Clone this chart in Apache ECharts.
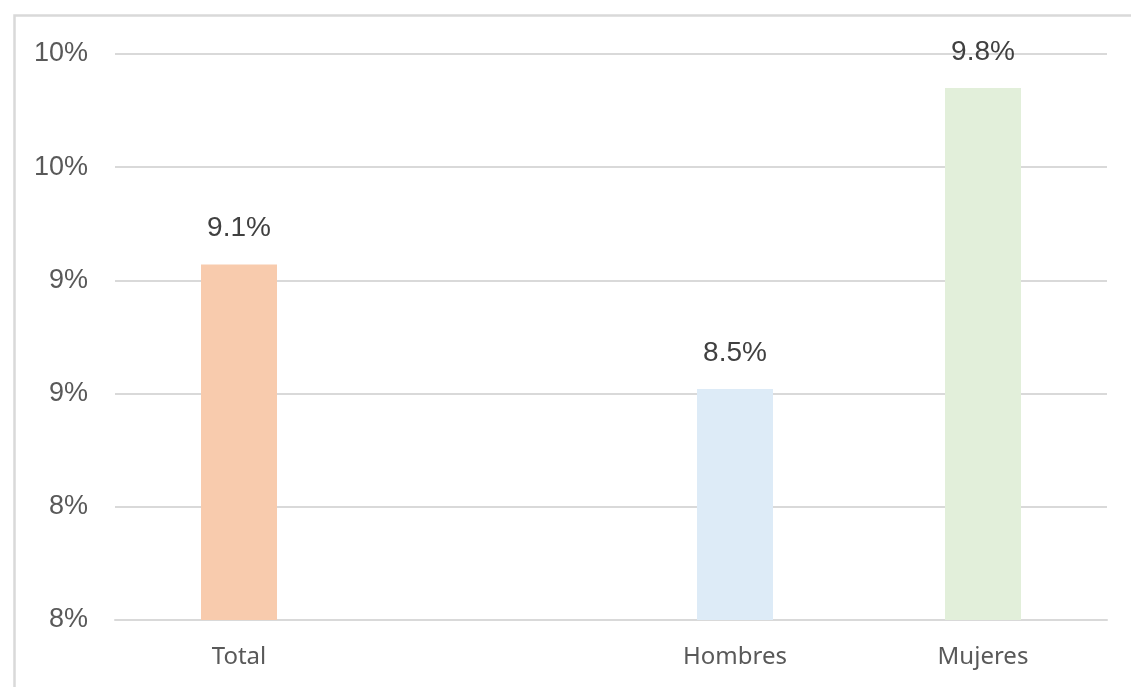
<!DOCTYPE html>
<html>
<head>
<meta charset="utf-8">
<script src="https://cdn.jsdelivr.net/npm/echarts@6/dist/echarts.min.js"></script>
<style>
html,body{margin:0;padding:0;background:#fff;}
#chart{width:1131px;height:687px;}
</style>
</head>
<body>
<div id="chart"></div>
<script>
var categories = ['Total', '', 'Hombres', 'Mujeres'];
var values = [9.07, null, 8.52, 9.85];
var barColors = ['#F8CBAD', '#FFFFFF', '#DDEBF7', '#E2EFDA'];
var yMin = 7.5, yMax = 10, yStep = 0.5;

var chart = echarts.init(document.getElementById('chart'), null, {renderer: 'canvas'});
chart.setOption({
  backgroundColor: '#ffffff',
  animation: false,
  graphic: [{
    type: 'rect',
    left: 12, top: 13,
    shape: {width: 1200, height: 800},
    style: {fill: 'none', stroke: '#d9d9d9', lineWidth: 2.5},
    silent: true,
    z: 0
  }],
  grid: {left: 115, right: 24, top: 54, bottom: 67, containLabel: false},
  xAxis: {
    type: 'category',
    data: categories,
    axisLine: {show: true, lineStyle: {color: '#d9d9d9', width: 2}},
    axisTick: {show: false},
    axisLabel: {
      color: '#595959',
      fontFamily: 'Noto Sans',
      fontSize: 24,
      margin: 25
    }
  },
  yAxis: {
    type: 'value',
    min: yMin, max: yMax, interval: yStep,
    axisLine: {show: false},
    axisTick: {show: false},
    splitLine: {lineStyle: {color: '#d9d9d9', width: 2}},
    axisLabel: {
      color: '#595959',
      fontFamily: 'Liberation Sans',
      fontSize: 27,
      margin: 27,
      padding: [4, 0, 0, 0],
      formatter: function (v) { return Math.round(v) + '%'; }
    }
  },
  series: [{
    type: 'bar',
    barWidth: 76,
    data: values.map(function (v, i) {
      return {value: v, itemStyle: {color: barColors[i]}};
    }),
    label: {
      show: true,
      position: 'top',
      distance: 22,
      color: '#404040',
      fontFamily: 'Liberation Sans',
      fontSize: 28,
      formatter: function (p) { return p.value == null ? '' : p.value.toFixed(1) + '%'; }
    }
  }]
});
</script>
</body>
</html>
